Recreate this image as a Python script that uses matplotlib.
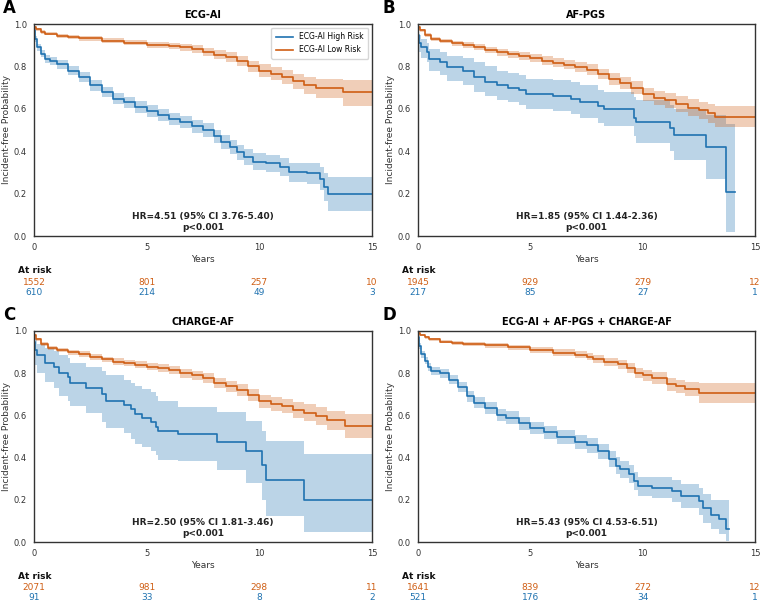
import matplotlib
matplotlib.use("Agg")
import matplotlib.pyplot as plt
import matplotlib.transforms as mtransforms

# ---------------- data ----------------
panel_letters = ["A", "B", "C", "D"]
panel_titles = ["ECG-AI", "AF-PGS", "CHARGE-AF", "ECG-AI + AF-PGS + CHARGE-AF"]
hr_texts = ["HR=4.51 (95% CI 3.76-5.40)\np<0.001",
            "HR=1.85 (95% CI 1.44-2.36)\np<0.001",
            "HR=2.50 (95% CI 1.81-3.46)\np<0.001",
            "HR=5.43 (95% CI 4.53-6.51)\np<0.001"]
legend_labels = ["ECG-AI High Risk", "ECG-AI Low Risk"]
risk_ticks = [0, 5, 10, 15]
atrisk_low = [[1552, 801, 257, 10], [1945, 929, 279, 12],
              [2071, 981, 298, 11], [1641, 839, 272, 12]]
atrisk_high = [[610, 214, 49, 3], [217, 85, 27, 1],
               [91, 33, 8, 2], [521, 176, 34, 1]]

# Panel A
a_low_t = [0, 0.1, 0.3, 0.5, 1.0, 1.5, 2.0, 3.0, 4.0, 5.0, 6.0, 6.5, 7.0, 7.5, 8.0, 8.5, 9.0, 9.5, 10.0, 10.5, 11.0, 11.5, 12.0, 12.5, 13.7, 15.0]
a_low_s = [0.985, 0.975, 0.963, 0.955, 0.945, 0.938, 0.932, 0.922, 0.912, 0.903, 0.896, 0.890, 0.882, 0.870, 0.855, 0.845, 0.825, 0.800, 0.780, 0.765, 0.750, 0.730, 0.712, 0.698, 0.678, 0.678]
a_low_lo = [0.978, 0.967, 0.954, 0.946, 0.935, 0.927, 0.921, 0.910, 0.899, 0.889, 0.881, 0.874, 0.865, 0.851, 0.834, 0.823, 0.801, 0.773, 0.751, 0.734, 0.717, 0.694, 0.672, 0.650, 0.615, 0.615]
a_low_hi = [0.992, 0.983, 0.972, 0.964, 0.955, 0.949, 0.943, 0.934, 0.925, 0.917, 0.911, 0.906, 0.899, 0.889, 0.876, 0.867, 0.849, 0.827, 0.809, 0.796, 0.783, 0.766, 0.752, 0.740, 0.735, 0.735]
a_high_t = [0, 0.05, 0.15, 0.3, 0.5, 0.7, 1.0, 1.5, 2.0, 2.5, 3.0, 3.5, 4.0, 4.5, 5.0, 5.5, 6.0, 6.5, 7.0, 7.5, 8.0, 8.3, 8.7, 9.0, 9.3, 9.7, 10.3, 10.9, 11.3, 12.1, 12.7, 12.85, 13.05, 15.0]
a_high_s = [0.97, 0.93, 0.89, 0.86, 0.835, 0.825, 0.81, 0.78, 0.75, 0.71, 0.68, 0.648, 0.630, 0.607, 0.588, 0.570, 0.553, 0.538, 0.518, 0.500, 0.470, 0.445, 0.420, 0.395, 0.372, 0.350, 0.343, 0.327, 0.300, 0.295, 0.270, 0.230, 0.198, 0.198]
a_high_lo = [0.96, 0.915, 0.873, 0.842, 0.817, 0.806, 0.790, 0.759, 0.728, 0.686, 0.655, 0.622, 0.603, 0.579, 0.560, 0.541, 0.524, 0.508, 0.488, 0.469, 0.438, 0.412, 0.386, 0.360, 0.335, 0.310, 0.302, 0.284, 0.254, 0.245, 0.216, 0.165, 0.118, 0.118]
a_high_hi = [0.98, 0.945, 0.907, 0.878, 0.853, 0.844, 0.830, 0.801, 0.772, 0.734, 0.705, 0.674, 0.657, 0.635, 0.616, 0.599, 0.582, 0.568, 0.548, 0.531, 0.502, 0.478, 0.454, 0.430, 0.409, 0.390, 0.384, 0.370, 0.346, 0.345, 0.324, 0.295, 0.280, 0.280]

# Panel B
b_low_t = [0, 0.1, 0.3, 0.6, 1.0, 1.5, 2.0, 2.5, 3.0, 3.5, 4.0, 4.5, 5.0, 5.5, 6.0, 6.5, 7.0, 7.5, 8.0, 8.5, 9.0, 9.5, 10.0, 10.5, 11.0, 11.5, 12.0, 12.5, 12.9, 13.2, 15.0]
b_low_s = [0.985, 0.97, 0.95, 0.93, 0.92, 0.91, 0.90, 0.89, 0.878, 0.867, 0.857, 0.848, 0.838, 0.827, 0.818, 0.808, 0.798, 0.785, 0.765, 0.740, 0.720, 0.700, 0.668, 0.650, 0.640, 0.622, 0.605, 0.592, 0.578, 0.562, 0.562]
b_low_lo = [0.978, 0.962, 0.941, 0.92, 0.909, 0.898, 0.887, 0.876, 0.863, 0.851, 0.84, 0.83, 0.819, 0.807, 0.797, 0.786, 0.775, 0.761, 0.74, 0.713, 0.692, 0.67, 0.636, 0.616, 0.604, 0.584, 0.565, 0.55, 0.533, 0.512, 0.512]
b_low_hi = [0.992, 0.978, 0.959, 0.94, 0.931, 0.922, 0.913, 0.904, 0.893, 0.883, 0.874, 0.866, 0.857, 0.847, 0.839, 0.83, 0.821, 0.809, 0.79, 0.767, 0.748, 0.73, 0.7, 0.684, 0.676, 0.66, 0.645, 0.634, 0.623, 0.612, 0.612]
b_high_t = [0, 0.05, 0.15, 0.4, 0.5, 1.0, 1.3, 2.0, 2.5, 3.0, 3.5, 4.0, 4.5, 4.8, 6.0, 6.8, 7.2, 8.0, 8.3, 9.6, 9.7, 11.2, 11.4, 12.8, 13.7, 14.1]
b_high_s = [0.95, 0.91, 0.89, 0.87, 0.835, 0.82, 0.795, 0.778, 0.748, 0.728, 0.71, 0.70, 0.69, 0.668, 0.66, 0.648, 0.632, 0.612, 0.600, 0.557, 0.537, 0.510, 0.478, 0.418, 0.208, 0.208]
b_high_lo = [0.92, 0.87, 0.84, 0.82, 0.78, 0.76, 0.73, 0.71, 0.68, 0.66, 0.64, 0.63, 0.62, 0.60, 0.59, 0.575, 0.555, 0.535, 0.52, 0.47, 0.44, 0.40, 0.36, 0.27, 0.02, 0.02]
b_high_hi = [0.98, 0.95, 0.93, 0.91, 0.88, 0.87, 0.85, 0.84, 0.82, 0.80, 0.78, 0.77, 0.76, 0.74, 0.735, 0.725, 0.71, 0.69, 0.68, 0.655, 0.64, 0.62, 0.60, 0.57, 0.53, 0.53]

# Panel C
c_low_t = [0, 0.1, 0.3, 0.6, 1.0, 1.5, 2.0, 2.5, 3.0, 3.5, 4.0, 4.5, 5.0, 5.5, 6.0, 6.5, 7.0, 7.5, 8.0, 8.5, 9.0, 9.5, 10.0, 10.5, 11.0, 11.5, 12.0, 12.5, 13.0, 13.8, 15.0]
c_low_s = [0.98, 0.96, 0.94, 0.918, 0.91, 0.90, 0.89, 0.878, 0.865, 0.855, 0.848, 0.84, 0.831, 0.823, 0.815, 0.80, 0.79, 0.776, 0.752, 0.738, 0.72, 0.697, 0.668, 0.655, 0.645, 0.625, 0.612, 0.597, 0.578, 0.550, 0.550]
c_low_lo = [0.973, 0.952, 0.931, 0.908, 0.899, 0.888, 0.877, 0.864, 0.851, 0.84, 0.832, 0.823, 0.813, 0.804, 0.795, 0.779, 0.768, 0.753, 0.728, 0.712, 0.693, 0.668, 0.637, 0.622, 0.61, 0.588, 0.572, 0.555, 0.533, 0.495, 0.495]
c_low_hi = [0.987, 0.968, 0.949, 0.928, 0.921, 0.912, 0.903, 0.892, 0.879, 0.87, 0.864, 0.857, 0.849, 0.842, 0.835, 0.821, 0.812, 0.799, 0.776, 0.764, 0.747, 0.726, 0.699, 0.688, 0.68, 0.662, 0.652, 0.639, 0.623, 0.605, 0.605]
c_high_t = [0, 0.05, 0.15, 0.5, 0.9, 1.1, 1.5, 1.6, 2.3, 3.0, 3.2, 4.0, 4.3, 4.5, 4.8, 5.2, 5.4, 5.5, 6.4, 8.1, 9.4, 10.1, 10.3, 12.0, 15.0]
c_high_s = [0.95, 0.91, 0.885, 0.85, 0.83, 0.80, 0.78, 0.755, 0.73, 0.70, 0.67, 0.65, 0.63, 0.605, 0.59, 0.57, 0.545, 0.525, 0.51, 0.475, 0.43, 0.365, 0.295, 0.197, 0.197]
c_high_lo = [0.89, 0.84, 0.80, 0.76, 0.73, 0.69, 0.67, 0.645, 0.61, 0.57, 0.54, 0.515, 0.49, 0.465, 0.45, 0.43, 0.41, 0.39, 0.385, 0.34, 0.28, 0.20, 0.125, 0.047, 0.047]
c_high_hi = [0.99, 0.96, 0.94, 0.92, 0.905, 0.885, 0.87, 0.85, 0.83, 0.81, 0.79, 0.77, 0.755, 0.74, 0.725, 0.71, 0.69, 0.67, 0.64, 0.615, 0.575, 0.525, 0.48, 0.418, 0.418]

# Panel D
d_low_t = [0, 0.1, 0.3, 0.5, 1.0, 1.5, 2.0, 3.0, 4.0, 5.0, 6.0, 7.0, 7.5, 7.8, 8.3, 8.9, 9.3, 9.65, 10.0, 10.4, 11.1, 11.5, 11.9, 12.5, 15.0]
d_low_s = [0.99, 0.98, 0.97, 0.96, 0.95, 0.943, 0.938, 0.932, 0.922, 0.910, 0.898, 0.888, 0.878, 0.868, 0.853, 0.843, 0.825, 0.800, 0.790, 0.777, 0.748, 0.738, 0.725, 0.708, 0.708]
d_low_lo = [0.985, 0.974, 0.963, 0.952, 0.941, 0.933, 0.927, 0.92, 0.909, 0.896, 0.883, 0.872, 0.861, 0.85, 0.834, 0.822, 0.802, 0.775, 0.764, 0.750, 0.718, 0.706, 0.691, 0.660, 0.657]
d_low_hi = [0.995, 0.986, 0.977, 0.968, 0.959, 0.953, 0.949, 0.944, 0.935, 0.924, 0.913, 0.904, 0.895, 0.886, 0.872, 0.864, 0.848, 0.825, 0.816, 0.804, 0.778, 0.770, 0.759, 0.752, 0.752]
d_high_t = [0, 0.05, 0.15, 0.3, 0.45, 0.6, 1.0, 1.4, 1.8, 2.2, 2.5, 3.0, 3.5, 3.9, 4.5, 5.0, 5.6, 6.2, 7.0, 7.5, 8.0, 8.5, 8.8, 9.0, 9.4, 9.6, 9.8, 10.4, 11.3, 11.7, 12.5, 12.7, 13.05, 13.4, 13.7, 13.85]
d_high_s = [0.97, 0.93, 0.89, 0.86, 0.83, 0.81, 0.80, 0.77, 0.735, 0.69, 0.66, 0.635, 0.602, 0.59, 0.563, 0.54, 0.52, 0.497, 0.475, 0.458, 0.43, 0.395, 0.362, 0.345, 0.322, 0.29, 0.265, 0.258, 0.242, 0.218, 0.194, 0.16, 0.13, 0.108, 0.062, 0.062]
d_high_lo = [0.96, 0.915, 0.873, 0.842, 0.811, 0.79, 0.779, 0.748, 0.711, 0.665, 0.634, 0.608, 0.574, 0.561, 0.533, 0.510, 0.489, 0.465, 0.442, 0.424, 0.394, 0.357, 0.323, 0.305, 0.280, 0.247, 0.220, 0.210, 0.190, 0.162, 0.130, 0.092, 0.060, 0.038, 0.005, 0.005]
d_high_hi = [0.98, 0.945, 0.907, 0.878, 0.849, 0.83, 0.821, 0.792, 0.759, 0.715, 0.686, 0.662, 0.630, 0.619, 0.593, 0.570, 0.551, 0.529, 0.508, 0.492, 0.466, 0.433, 0.401, 0.385, 0.364, 0.333, 0.310, 0.306, 0.294, 0.274, 0.258, 0.228, 0.200, 0.198, 0.200, 0.200]

panels_low = [(a_low_t, a_low_s, a_low_lo, a_low_hi), (b_low_t, b_low_s, b_low_lo, b_low_hi),
              (c_low_t, c_low_s, c_low_lo, c_low_hi), (d_low_t, d_low_s, d_low_lo, d_low_hi)]
panels_high = [(a_high_t, a_high_s, a_high_lo, a_high_hi), (b_high_t, b_high_s, b_high_lo, b_high_hi),
               (c_high_t, c_high_s, c_high_lo, c_high_hi), (d_high_t, d_high_s, d_high_lo, d_high_hi)]

# ---------------- style ----------------
BLUE = "#1f72b0"
ORANGE = "#cf5e14"
TXT = "#333333"
plt.rcParams["font.family"] = ["DejaVu Sans"]

fig = plt.figure(figsize=(7.6, 6.02), dpi=100)

positions = [
    (34 / 760, 1 - 236 / 602, 338 / 760, 212 / 602),
    (418 / 760, 1 - 236 / 602, 337 / 760, 212 / 602),
    (34 / 760, 1 - 542 / 602, 338 / 760, 211 / 602),
    (418 / 760, 1 - 542 / 602, 337 / 760, 211 / 602),
]
letter_pos = [(3 / 760, 1 - 8 / 602), (383 / 760, 1 - 8 / 602),
              (3 / 760, 1 - 315 / 602), (383 / 760, 1 - 315 / 602)]

for i in range(4):
    ax = fig.add_axes(positions[i])
    t, s, lo, hi = panels_high[i]
    ax.fill_between(t, lo, hi, step="post", color=BLUE, alpha=0.3, linewidth=0)
    ax.step(t, s, where="post", color=BLUE, lw=1.2, label=legend_labels[0])
    t, s, lo, hi = panels_low[i]
    ax.fill_between(t, lo, hi, step="post", color=ORANGE, alpha=0.3, linewidth=0)
    ax.step(t, s, where="post", color=ORANGE, lw=1.2, label=legend_labels[1])

    ax.set_xlim(0, 15)
    ax.set_ylim(0, 1)
    ax.set_xticks(risk_ticks)
    ax.set_yticks([0, 0.2, 0.4, 0.6, 0.8, 1.0])
    ax.tick_params(length=0, labelsize=6, colors=TXT, pad=5)
    for sp in ax.spines.values():
        sp.set_color("#333333")
        sp.set_linewidth(1.0)
    ax.set_title(panel_titles[i], fontsize=7, fontweight="bold", pad=4)
    ax.set_xlabel("Years", fontsize=6.5, color=TXT, labelpad=2)
    ax.set_ylabel("Incident-free Probability", fontsize=6.5, color=TXT, labelpad=2)
    ax.text(0.5, 0.065, hr_texts[i], transform=ax.transAxes, ha="center", va="center",
            fontsize=6.5, fontweight="bold", color="#222222", linespacing=1.3)
    if i == 0:
        ax.legend(loc="upper right", fontsize=5.5, frameon=True, edgecolor="#cccccc",
                  fancybox=True, handlelength=2.2, borderpad=0.6)

    trans = mtransforms.blended_transform_factory(ax.transData, ax.transAxes)
    ax.text(-0.7, -0.165, "At risk", transform=trans, ha="left",
            va="center", fontsize=6.5, fontweight="bold", color="#111111")
    for k, xt in enumerate(risk_ticks):
        ax.text(xt, -0.217, str(atrisk_low[i][k]), transform=trans, ha="center",
                va="center", fontsize=6.5, color=ORANGE)
        ax.text(xt, -0.265, str(atrisk_high[i][k]), transform=trans, ha="center",
                va="center", fontsize=6.5, color=BLUE)

    fig.text(letter_pos[i][0], letter_pos[i][1], panel_letters[i], fontsize=12,
             fontweight="bold", ha="left", va="center")

fig.savefig("out.png", dpi=100)
